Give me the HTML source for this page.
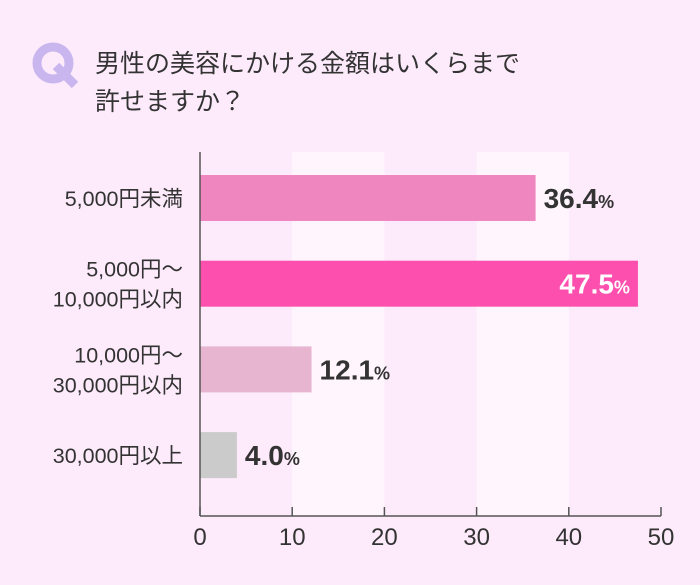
<!DOCTYPE html>
<html><head><meta charset="utf-8">
<style>
html,body{margin:0;padding:0;background:#fdebfb;}
svg{display:block;font-family:"Liberation Sans","Noto Sans CJK JP",sans-serif;}
</style></head>
<body>
<svg id="c" width="700" height="585" viewBox="0 0 700 585">
<rect width="700" height="585" fill="#fdebfb"/>
<g>
<circle cx="53" cy="63" r="16" fill="none" stroke="#c9b6ef" stroke-width="9"/>
<line x1="56" y1="66" x2="75" y2="85" stroke="#c9b6ef" stroke-width="9"/>
</g>
<text x="95" y="72" font-size="25" fill="#333">男性の美容にかける金額はいくらまで</text>
<text x="95" y="110" font-size="25" fill="#333">許せますか？</text>
<g id="plot"></g>
</svg>
<script>
const categories=[["5,000円未満"],["5,000円～","10,000円以内"],["10,000円～","30,000円以内"],["30,000円以上"]];
const values=[36.4,47.5,12.1,4.0];
const valueLabels=["36.4","47.5","12.1","4.0"];
const colors=["#ef86c0","#fd50ae","#e8b5d1","#cbcbcb"];
const ticks=[0,10,20,30,40,50];
const X0=200,X1=661,YT=152,YB=516;
const x=v=>X0+(v/50)*(X1-X0);
const barY=i=>175+i*85.7;
const BH=46;
const NS="http://www.w3.org/2000/svg";
const g=document.getElementById('plot');
function mk(t,a,txt){const e=document.createElementNS(NS,t);for(const k in a)e.setAttribute(k,a[k]);if(txt!=null)e.textContent=txt;g.appendChild(e);return e;}
[[10,20],[30,40]].forEach(b=>{
const r=mk('rect',{x:x(b[0]),y:YT,width:x(b[1])-x(b[0]),height:YB-YT,fill:'#fff6fd'});


});
values.forEach((v,i)=>{
const y=barY(i);
const r=mk('rect',{x:X0,y:y,width:x(v)-X0,height:BH,fill:colors[i]});


const inside=i===1;
const t=mk('text',{x:inside?x(v)-8:x(v)+8,y:y+BH/2+10,'font-size':28,'font-weight':'bold',fill:inside?'#fff':'#333','text-anchor':inside?'end':'start'});


const s1=document.createElementNS(NS,'tspan');s1.textContent=valueLabels[i];t.appendChild(s1);
const s2=document.createElementNS(NS,'tspan');s2.setAttribute('font-size','18');s2.textContent='%';t.appendChild(s2);
const lines=categories[i];
lines.forEach((l,j)=>{
const ty=y+BH/2+8+(j-(lines.length-1)/2)*30;
const c=mk('text',{x:183,y:ty,'font-size':21.5,fill:'#333','text-anchor':'end'},l);


});
});
const ax=mk('line',{x1:X0,y1:YT,x2:X0,y2:YB,stroke:'#555','stroke-width':1.5});


const xa=mk('line',{x1:X0,y1:YB,x2:X1,y2:YB,stroke:'#555','stroke-width':1.5});


ticks.forEach(v=>{
const tk=mk('line',{x1:x(v),y1:YB-9,x2:x(v),y2:YB,stroke:'#555','stroke-width':1.5});


const tl=mk('text',{x:x(v),y:545,'font-size':24,fill:'#333','text-anchor':'middle'},String(v));


});
</script>
</body></html>
